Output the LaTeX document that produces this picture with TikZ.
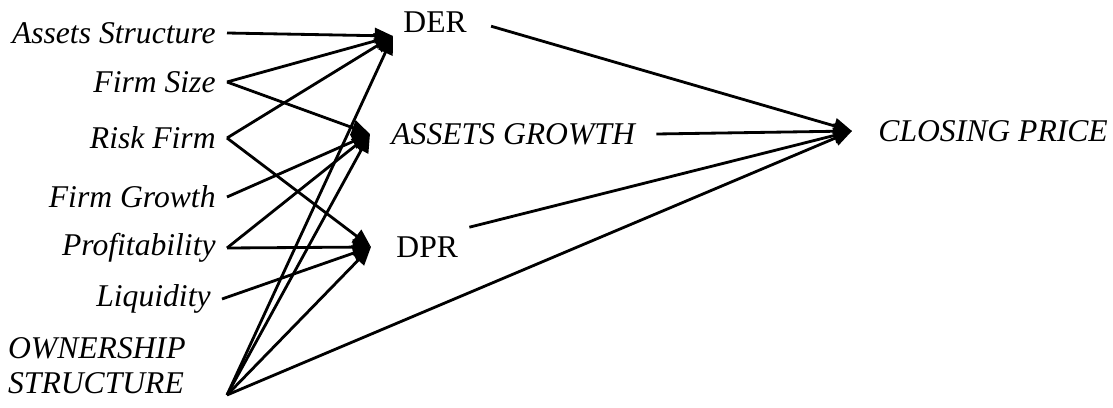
\documentclass[tikz,border=0pt]{standalone}
\usepackage{fontspec}
\setmainfont{Liberation Serif}
\usetikzlibrary{arrows.meta}
\tikzset{>={Triangle[length=13pt,width=11pt]}}

\begin{document}
\begin{tikzpicture}[x=0.025cm, y=-0.025cm, line width=2pt,
    exo/.style={anchor=east, inner xsep=0.25cm, font=\fontsize{22.5}{25}\selectfont\itshape},
    med/.style={font=\fontsize{22.5}{25}\selectfont},
    endo/.style={font=\fontsize{22.5}{25}\selectfont\itshape}]
    \useasboundingbox (0,0) rectangle (1113,408);

    % exogenous variables
    \node[exo] (as) at (227,33) {Assets Structure};
    \node[exo] (fs) at (227,82) {Firm Size};
    \node[exo] (rf) at (227,138) {Risk Firm};
    \node[exo] (fg) at (227,197) {Firm Growth};
    \node[exo] (pr) at (227,248) {Profitability};
    \node[exo] (lq) at (222,299) {Liquidity};
    \node[exo, anchor=south east, align=left, inner xsep=1.0cm, inner ysep=0pt] (os) at (227,395) {OWNERSHIP\\STRUCTURE};

    % intervening variables
    \node[med, anchor=south west, inner xsep=0.225cm, inner ysep=0.05cm] (der) at (393,36) {DER};
    \node[endo, anchor=west, inner xsep=0.5cm] (ag) at (370,134) {ASSETS GROWTH};
    \node[med, anchor=west, inner xsep=0.6cm, inner ysep=0.2cm] (dpr) at (371,247) {DPR};

    % dependent variable
    \node[endo, anchor=west, inner xsep=0.625cm] (cp) at (852,131) {CLOSING PRICE};

    % into DER
    \draw[->] (as.east) -- (der.south west);
    \draw[->] (fs.east) -- (der.south west);
    \draw[->] (rf.east) -- (der.south west);
    \draw[->] (os.south east) -- (der.south west);

    % into ASSETS GROWTH
    \draw[->] (fs.east) -- (ag.west);
    \draw[->] (fg.east) -- (ag.west);
    \draw[->] (pr.east) -- (ag.west);
    \draw[->] (os.south east) -- (ag.west);

    % into DPR
    \draw[->] (rf.east) -- (dpr.west);
    \draw[->] (pr.east) -- (dpr.west);
    \draw[->] (lq.east) -- (dpr.west);
    \draw[->] (os.south east) -- (dpr.west);

    % into CLOSING PRICE
    \draw[->] ([xshift=0.35cm, yshift=-0.1cm]der.east) -- (cp.west);
    \draw[->] (ag.east) -- (cp.west);
    \draw[->] ([xshift=-0.35cm]dpr.north east) -- (cp.west);
    \draw[->] (os.south east) -- (cp.west);
\end{tikzpicture}
\end{document}
